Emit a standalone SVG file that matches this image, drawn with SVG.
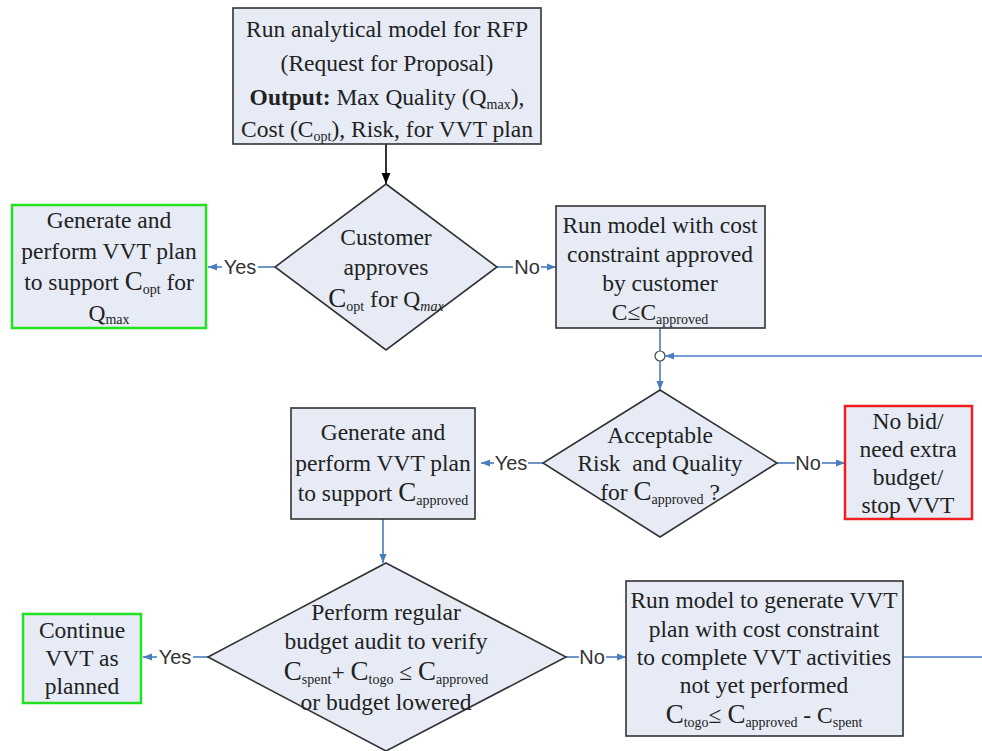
<svg xmlns="http://www.w3.org/2000/svg" width="982" height="751" viewBox="0 0 982 751">
<style>
.box{fill:#e6ebf5;stroke:#333;stroke-width:1.6}
.green{fill:#e6ebf5;stroke:#22e022;stroke-width:2.5}
.red{fill:#e6ebf5;stroke:#f02020;stroke-width:2.5}
.t{font-family:"Liberation Serif","Times New Roman",serif;font-size:23.5px;fill:#222;text-anchor:middle}
.s{font-size:14px}
.big{font-size:27px}
.lbl{font-family:"Liberation Sans",Arial,sans-serif;font-size:20px;fill:#333;text-anchor:middle}
.c{stroke:#4a7cc0;stroke-width:1.6;fill:none}
</style>
<defs>
<marker id="ab" viewBox="0 0 10 10" refX="10" refY="5" markerWidth="9" markerHeight="9" orient="auto" markerUnits="userSpaceOnUse"><path d="M0,1 L10,5 L0,9 z" fill="#4a7cc0"/></marker>
<marker id="ak" viewBox="0 0 10 10" refX="10" refY="5" markerWidth="11" markerHeight="11" orient="auto" markerUnits="userSpaceOnUse"><path d="M0,1 L10,5 L0,9 z" fill="#000"/></marker>
</defs>
<g id="connectors">
<line x1="386" y1="144" x2="386" y2="184" stroke="#000" stroke-width="1.6" marker-end="url(#ak)"/>
<line class="c" x1="275" y1="267" x2="258" y2="267"/>
<line class="c" x1="222" y1="267" x2="208" y2="267" marker-end="url(#ab)"/>
<text class="lbl" x="240" y="274">Yes</text>
<line class="c" x1="497" y1="267" x2="513" y2="267"/>
<line class="c" x1="541" y1="267" x2="556" y2="267" marker-end="url(#ab)"/>
<text class="lbl" x="527" y="274">No</text>
<line class="c" x1="660" y1="328" x2="660" y2="351"/>
<circle cx="660" cy="356" r="5" fill="#fff" stroke="#444" stroke-width="1.2"/>
<line class="c" x1="660" y1="361" x2="660" y2="390" marker-end="url(#ab)"/>
<line class="c" x1="982" y1="356" x2="665" y2="356" marker-end="url(#ab)"/>
<line class="c" x1="543" y1="463" x2="528" y2="463"/>
<line class="c" x1="494" y1="463" x2="481" y2="463" marker-end="url(#ab)"/>
<text class="lbl" x="511" y="470">Yes</text>
<line class="c" x1="777" y1="463" x2="795" y2="463"/>
<line class="c" x1="822" y1="463" x2="845" y2="463" marker-end="url(#ab)"/>
<text class="lbl" x="808" y="470">No</text>
<line class="c" x1="383" y1="519" x2="383" y2="563" marker-end="url(#ab)"/>
<line class="c" x1="208" y1="657" x2="193" y2="657"/>
<line class="c" x1="157" y1="657" x2="143" y2="657" marker-end="url(#ab)"/>
<text class="lbl" x="175" y="664">Yes</text>
<line class="c" x1="566" y1="657" x2="579" y2="657"/>
<line class="c" x1="606" y1="657" x2="626" y2="657" marker-end="url(#ab)"/>
<text class="lbl" x="592" y="664">No</text>
<line class="c" x1="903" y1="657" x2="982" y2="657"/>
</g>
<g id="rfp">
<rect class="box" x="233" y="8" width="308" height="136"/>
<text class="t" x="387" y="37">Run analytical model for RFP</text>
<text class="t" x="387" y="71">(Request for Proposal)</text>
<text class="t" x="387" y="105"><tspan font-weight="bold">Output:</tspan> Max Quality (Q<tspan class="s" dy="4">max</tspan><tspan dy="-4">),</tspan></text>
<text class="t" x="387" y="137">Cost (C<tspan class="s" dy="4">opt</tspan><tspan dy="-4">), Risk, for VVT plan</tspan></text>
</g>
<g id="d1">
<polygon class="box" points="386,184 497,267 386,350 275,267"/>
<text class="t" x="386" y="245">Customer</text>
<text class="t" x="386" y="275">approves</text>
<text class="t" x="386" y="307"><tspan class="big">C</tspan><tspan class="s" dy="4">opt</tspan><tspan dy="-4"> for Q</tspan><tspan class="s" font-style="italic" dy="4">max</tspan></text>
</g>
<g id="g1">
<rect class="green" x="12" y="205" width="194" height="123"/>
<text class="t" x="109" y="228">Generate and</text>
<text class="t" x="109" y="259">perform VVT plan</text>
<text class="t" x="109" y="290">to support <tspan class="big">C</tspan><tspan class="s" dy="4">opt</tspan><tspan dy="-4"> for</tspan></text>
<text class="t" x="109" y="321">Q<tspan class="s" dy="3">max</tspan></text>
</g>
<g id="b2">
<rect class="box" x="556" y="206" width="209" height="122"/>
<text class="t" x="660" y="233">Run model with cost</text>
<text class="t" x="660" y="262">constraint approved</text>
<text class="t" x="660" y="291">by customer</text>
<text class="t" x="660" y="320">C≤C<tspan class="s" dy="4">approved</tspan></text>
</g>
<g id="d2">
<polygon class="box" points="660,390 777,463 660,537 543,463"/>
<text class="t" x="660" y="443">Acceptable</text>
<text class="t" x="660" y="471" xml:space="preserve">Risk  and Quality</text>
<text class="t" x="660" y="500">for <tspan class="big">C</tspan><tspan class="s" dy="4">approved</tspan><tspan dy="-4"> ?</tspan></text>
</g>
<g id="b3">
<rect class="box" x="291" y="408" width="184" height="111"/>
<text class="t" x="383" y="440">Generate and</text>
<text class="t" x="383" y="471">perform VVT plan</text>
<text class="t" x="383" y="501">to support <tspan class="big">C</tspan><tspan class="s" dy="4">approved</tspan></text>
</g>
<g id="red">
<rect class="red" x="845" y="406" width="127" height="113"/>
<text class="t" x="908" y="429">No bid/</text>
<text class="t" x="908" y="457">need extra</text>
<text class="t" x="908" y="485">budget/</text>
<text class="t" x="908" y="513">stop VVT</text>
</g>
<g id="d3">
<polygon class="box" points="386,563 566,657 386,751 208,657"/>
<text class="t" x="386" y="620">Perform regular</text>
<text class="t" x="386" y="649">budget audit to verify</text>
<text class="t" x="386" y="680"><tspan class="big">C</tspan><tspan class="s" dy="4">spent</tspan><tspan dy="-4">+ </tspan><tspan class="big">C</tspan><tspan class="s" dy="4">togo</tspan><tspan dy="-4"> ≤ </tspan><tspan class="big">C</tspan><tspan class="s" dy="4">approved</tspan></text>
<text class="t" x="386" y="710">or budget lowered</text>
</g>
<g id="g2">
<rect class="green" x="23" y="614" width="118" height="89"/>
<text class="t" x="82" y="638">Continue</text>
<text class="t" x="82" y="666">VVT as</text>
<text class="t" x="82" y="694">planned</text>
</g>
<g id="b4">
<rect class="box" x="626" y="581" width="277" height="155"/>
<text class="t" x="764" y="608">Run model to generate VVT</text>
<text class="t" x="764" y="637">plan with cost constraint</text>
<text class="t" x="764" y="665">to complete VVT activities</text>
<text class="t" x="764" y="693">not yet performed</text>
<text class="t" x="764" y="723"><tspan class="big">C</tspan><tspan class="s" dy="4">togo</tspan><tspan dy="-4">≤ </tspan><tspan class="big">C</tspan><tspan class="s" dy="4">approved</tspan><tspan dy="-4"> - C</tspan><tspan class="s" dy="4">spent</tspan></text>
</g>
</svg>
